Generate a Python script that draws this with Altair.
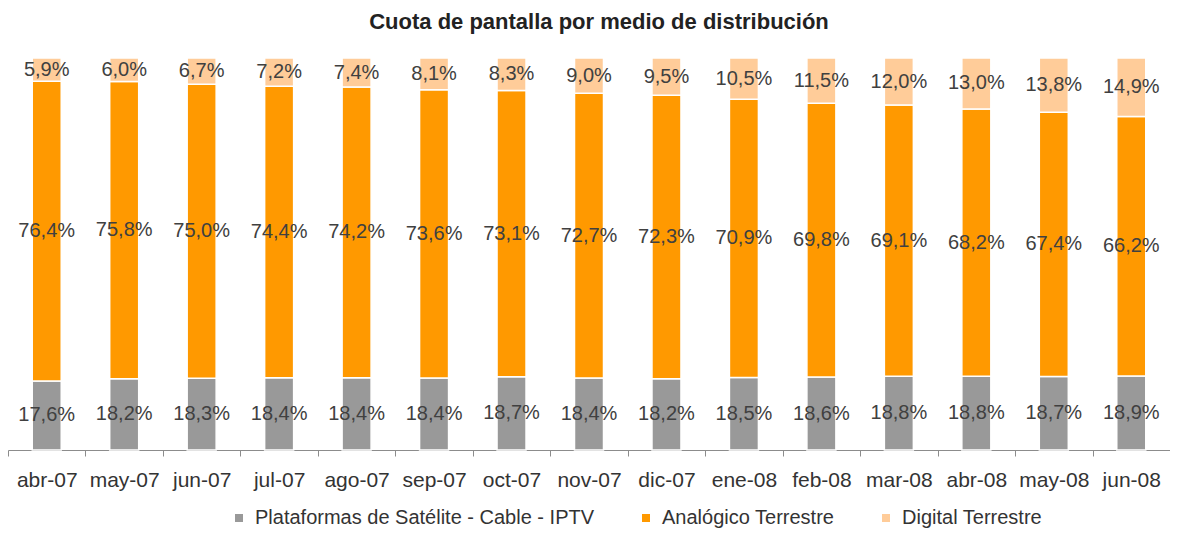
import altair as alt
import pandas as pd

months = ["abr-07", "may-07", "jun-07", "jul-07", "ago-07", "sep-07", "oct-07", "nov-07",
          "dic-07", "ene-08", "feb-08", "mar-08", "abr-08", "may-08", "jun-08"]
series = ["Plataformas de Satélite - Cable - IPTV", "Analógico Terrestre", "Digital Terrestre"]
colors = ["#999999", "#FF9900", "#FFCC99"]

satelite = [17.6, 18.2, 18.3, 18.4, 18.4, 18.4, 18.7, 18.4, 18.2, 18.5, 18.6, 18.8, 18.8, 18.7, 18.9]
analogico = [76.4, 75.8, 75.0, 74.4, 74.2, 73.6, 73.1, 72.7, 72.3, 70.9, 69.8, 69.1, 68.2, 67.4, 66.2]
digital = [5.9, 6.0, 6.7, 7.2, 7.4, 8.1, 8.3, 9.0, 9.5, 10.5, 11.5, 12.0, 13.0, 13.8, 14.9]

rows = []
for i, m in enumerate(months):
    for k, (s, vals) in enumerate(zip(series, [satelite, analogico, digital])):
        v = vals[i]
        rows.append({"month": m, "series": s, "order": k, "value": v,
                     "label": f"{v:.1f}".replace(".", ",") + "%"})
df = pd.DataFrame(rows)

FONT = "Liberation Sans"

base = alt.Chart(df).transform_stack(
    stack="value", groupby=["month"], as_=["y0", "y1"], offset="normalize",
    sort=[alt.SortField("order", order="ascending")]
).transform_calculate(mid="(datum.y0 + datum.y1) / 2")

xenc = alt.X("month:N", sort=months, title=None,
             scale=alt.Scale(paddingInner=0, paddingOuter=0),
             axis=alt.Axis(labelAngle=0, labelFontSize=21, labelColor="#333333", labelFont=FONT,
                           domainColor="#8c8c8c", tickColor="#8c8c8c", tickSize=6,
                           tickBand="extent", labelPadding=13, grid=False))
yscale = alt.Scale(domain=[0, 1])

bars = base.mark_bar(size=29, stroke="white", strokeWidth=1.5).encode(
    x=xenc,
    y=alt.Y("y0:Q", scale=yscale, axis=None),
    y2="y1:Q",
    color=alt.Color("series:N", scale=alt.Scale(domain=series, range=colors),
                    legend=alt.Legend(title=None, orient="none", legendX=221, legendY=450,
                                      direction="horizontal", symbolType="square",
                                      symbolSize=64, symbolStrokeWidth=0,
                                      labelFontSize=20, labelFont=FONT, labelColor="#333333",
                                      labelLimit=0, columnPadding=41, padding=0,
                                      labelOffset=6)),
    order=alt.Order("order:Q"),
)

texts = base.mark_text(fontSize=20, font=FONT, color="#404040").encode(
    x=alt.X("month:N", sort=months),
    y=alt.Y("mid:Q", scale=yscale),
    text="label:N",
)

chart = alt.layer(bars, texts).properties(
    width=1162, height=392,
    title=alt.TitleParams("Cuota de pantalla por medio de distribución", fontSize=22,
                          font=FONT, fontWeight="bold", color="#222222",
                          anchor="middle", offset=23, dx=10),
    autosize=alt.AutoSizeParams(type="none"),
    padding={"left": 0, "top": 50, "right": 0, "bottom": 80},
).configure_view(stroke=None)

chart.save("out.html", embed_options={"renderer": "svg", "actions": False})
